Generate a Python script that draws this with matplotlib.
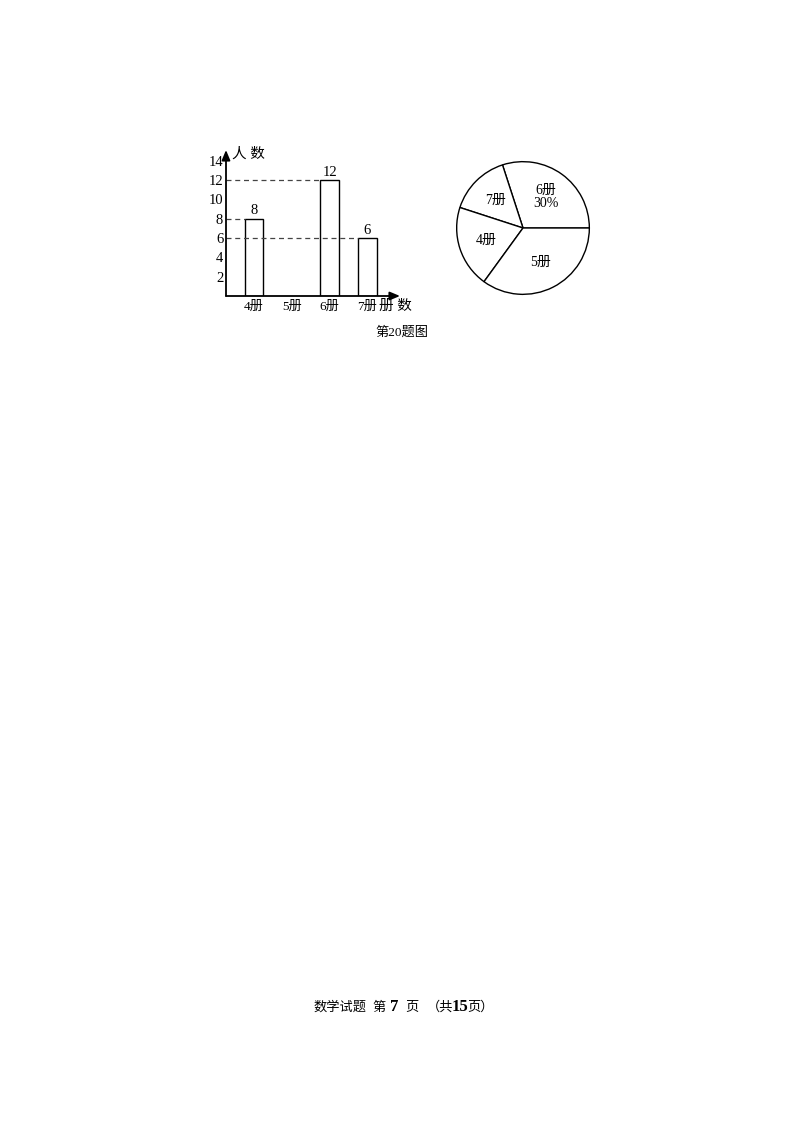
import matplotlib.pyplot as plt

plt.rcParams['font.family'] = ['Liberation Serif', 'Noto Sans CJK SC', 'DejaVu Sans']

# bar chart data (5册 bar is left blank in the original)
books = ['4册', '5册', '6册', '7册']
people = [8, None, 12, 6]
y_ticks = [2, 4, 6, 8, 10, 12, 14]

# pie data, counterclockwise from 0 deg
pie_labels = ['6册\n30%', '7册', '4册', '5册']
pie_counts = [12, 6, 8, 14]

W, H = 800, 1132
fig = plt.figure(figsize=(W / 100, H / 100), dpi=100)


def fig_box(x0, y_top, x1, y_bot):
    return [x0 / W, 1 - y_bot / H, (x1 - x0) / W, (y_bot - y_top) / H]


# ---- bar chart ----
ax = fig.add_axes(fig_box(226, 150, 400, 296))
xmin, xmax = 0.26, 4.86
ymax = 15.1
ax.set_xlim(xmin, xmax)
ax.set_ylim(0, ymax)
for s in ax.spines.values():
    s.set_visible(False)

xs = [1, 2, 3, 4]
bw = 0.5
for x, v in zip(xs, people):
    if v is None:
        continue
    ax.bar(x, v, width=bw, facecolor='white', edgecolor='black', linewidth=1.0, zorder=2)
    ax.text(x, v + 0.15, str(v), ha='center', va='bottom', fontsize=10.5)
    ax.plot([xmin, x - bw / 2], [v, v], ls=(0, (4, 3)), color='#444444', lw=0.9, zorder=3)

ax.annotate('', xy=(xmin, ymax), xytext=(xmin, 0),
            arrowprops=dict(arrowstyle='-|>,head_width=0.25,head_length=0.6',
                            color='black', lw=1.3, shrinkA=0, shrinkB=0))
ax.annotate('', xy=(xmax, 0), xytext=(xmin, 0),
            arrowprops=dict(arrowstyle='-|>,head_width=0.25,head_length=0.6',
                            color='black', lw=1.3, shrinkA=0, shrinkB=0))

ax.set_yticks(y_ticks)
ax.set_yticklabels([str(t) for t in y_ticks], fontsize=10.5)
ax.set_xticks(xs)
ax.set_xticklabels(books, fontsize=9.5)
ax.tick_params(axis='both', length=0)
ax.tick_params(axis='y', pad=2)
ax.tick_params(axis='x', pad=3)

fig.text(232 / W, 1 - 154 / H, '人 数', fontsize=10.5, ha='left', va='center')
fig.text(395 / W, 1 - 306 / H, '册 数', fontsize=10.5, ha='center', va='center')
fig.text(402 / W, 1 - 333 / H, '第20题图', fontsize=9.5, ha='center', va='center')

# ---- pie chart ----
pax = fig.add_axes(fig_box(456, 161, 590, 295))
pax.pie(pie_counts, labels=pie_labels, startangle=0, counterclock=True,
        colors=['white'] * 4, labeldistance=0.58,
        wedgeprops=dict(edgecolor='black', linewidth=1.0),
        textprops=dict(fontsize=10, ha='center', va='center', linespacing=1.1))
pax.set_xlim(-1.01, 1.01)
pax.set_ylim(-1.01, 1.01)
pax.set_aspect('equal')

# ---- footer ----
cjk = ['Noto Sans CJK SC', 'Liberation Serif']
fy = 1 - 1007 / H
fig.text(313 / W, fy, '数学试题', fontsize=9.5, family=cjk, ha='left', va='center')
fig.text(372 / W, fy, '第', fontsize=9.5, family=cjk, ha='left', va='center')
fig.text(390 / W, fy, '7', fontsize=12, fontweight='bold', ha='left', va='center')
fig.text(405 / W, fy, '页', fontsize=9.5, family=cjk, ha='left', va='center')
fig.text(427 / W, fy, '（共', fontsize=9.5, family=cjk, ha='left', va='center')
fig.text(452 / W, fy, '15', fontsize=12, fontweight='bold', ha='left', va='center')
fig.text(467 / W, fy, '页）', fontsize=9.5, family=cjk, ha='left', va='center')

fig.savefig('out.png', dpi=100, facecolor='white')
